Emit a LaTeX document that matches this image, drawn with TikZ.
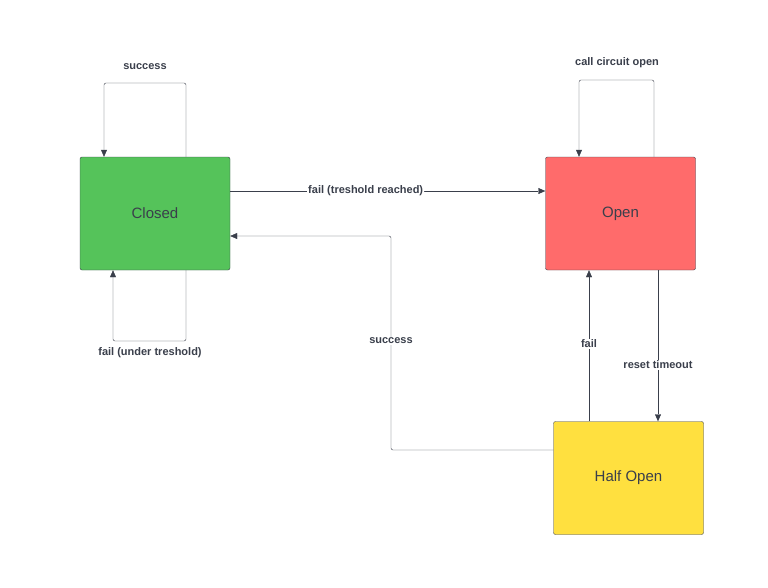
\documentclass[tikz,border=0pt]{standalone}
\usepackage{fontspec}
\setmainfont{Liberation Sans}
\usetikzlibrary{arrows.meta}
\definecolor{lineclr}{HTML}{3A3F4B}
\definecolor{closedclr}{HTML}{55C35A}
\definecolor{openclr}{HTML}{FF6B6B}
\definecolor{halfclr}{HTML}{FFE03F}
\begin{document}
\begin{tikzpicture}[x=1pt,y=-1pt,
  state/.style={draw=lineclr,rounded corners=2pt,minimum width=150pt,minimum height=113pt,font=\fontsize{15}{18}\selectfont,text=lineclr},
  lbl/.style={font=\bfseries\fontsize{11}{13}\selectfont,text=lineclr,fill=white,inner sep=1pt},
  conn/.style={draw=lineclr,-{Triangle[length=7pt,width=6pt]},rounded corners=2pt}]
\useasboundingbox (0,0) rectangle (768,587);
\node[state,fill=closedclr] (closed) at (155,213.5) {Closed};
\node[state,fill=openclr] (open) at (620.5,213.5) {Open};
\node[state,fill=halfclr] (half) at (628.5,478) {Half Open};
% loops
\draw[conn] ([xshift=31pt]closed.north) |- (104,83) -- ([xshift=-51pt]closed.north);
\node[lbl] (l1) at (145,67) {success};
\draw[conn] ([xshift=31pt]closed.south) |- (113,341) -- ([xshift=-42pt]closed.south);
\node[lbl] (l2) at (150,353) {fail (under treshold)};
\draw[conn] ([xshift=33.5pt]open.north) |- (579,80) -- ([xshift=-41.5pt]open.north);
\node[lbl] (l3) at (617,63) {call circuit open};
% transitions
\draw[conn] (closed.east |- 0,191) -- (open.west |- 0,191)
  node[lbl,pos=0.43] (l4) {fail (treshold reached)};
\draw[conn] (half.west |- 0,450) -| (391,236) -- (closed.east |- 0,236);
\node[lbl] (l5) at (391,341) {success};
\draw[conn] (half.north -| 589,0) -- (open.south -| 589,0);
\node[lbl] (l6) at (589,344) {fail};
\draw[conn] (open.south -| 658,0) -- (half.north -| 658,0);
\node[lbl] (l7) at (658,365) {reset timeout};
\end{tikzpicture}
\end{document}
